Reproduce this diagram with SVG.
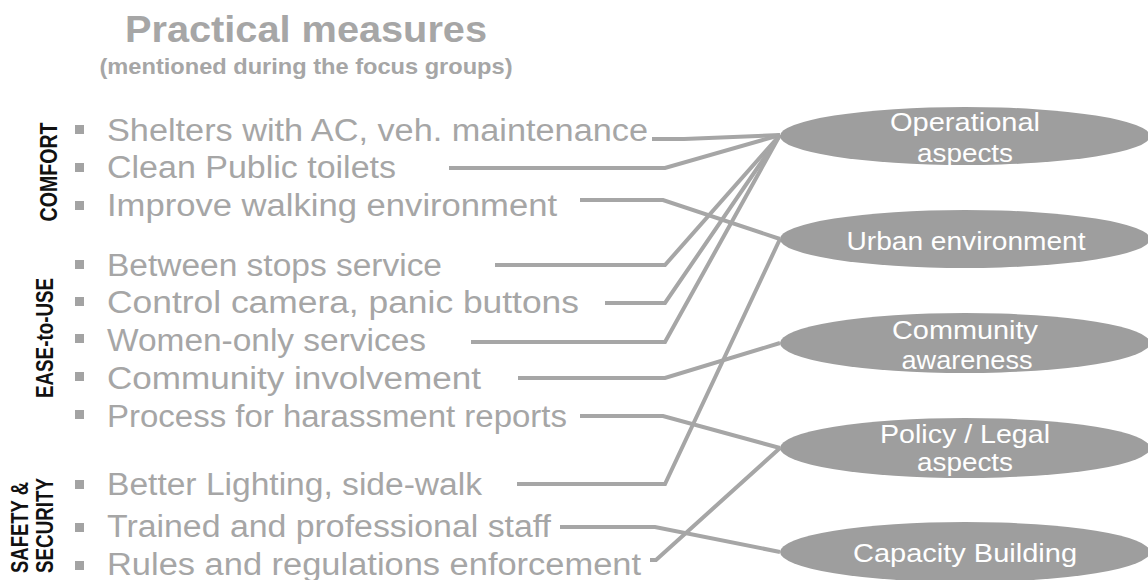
<svg xmlns="http://www.w3.org/2000/svg" width="1148" height="580" viewBox="0 0 1148 580">
<style>
  .title { font-family: "Liberation Sans", Arial, sans-serif; font-weight: bold; fill: #a6a6a6; }
  .item { font-family: "Liberation Sans", Arial, sans-serif; font-size: 31px; fill: #a6a6a6; }
  .cat { font-family: "Liberation Sans", Arial, sans-serif; font-size: 23px; font-weight: bold; fill: #111111; }
  .bullet { fill: #a3a3a3; }
  .node { fill: #9e9e9e; }
  .nlabel { font-family: "Liberation Sans", Arial, sans-serif; font-size: 26px; fill: #ffffff; text-anchor: middle; }
  .conn { fill: none; stroke: #a6a6a6; stroke-width: 4; stroke-linejoin: miter; }
</style>

<g id="title">
  <text class="title" x="306" y="42" font-size="37" text-anchor="middle" textLength="362" lengthAdjust="spacingAndGlyphs">Practical measures</text>
  <text class="title" x="306" y="74" font-size="22" text-anchor="middle" textLength="413" lengthAdjust="spacingAndGlyphs">(mentioned during the focus groups)</text>
</g>

<g id="categories">
  <text class="cat" transform="translate(57,172) rotate(-90)" text-anchor="middle" textLength="99" lengthAdjust="spacingAndGlyphs">COMFORT</text>
  <text class="cat" transform="translate(53,338) rotate(-90)" text-anchor="middle" textLength="120" lengthAdjust="spacingAndGlyphs">EASE-to-USE</text>
  <text class="cat" transform="translate(28,573) rotate(-90)" textLength="91" lengthAdjust="spacingAndGlyphs">SAFETY &amp;</text>
  <text class="cat" transform="translate(53,573) rotate(-90)" textLength="95" lengthAdjust="spacingAndGlyphs">SECURITY</text>
</g>

<g id="items">
  <g id="item-shelters"><rect class="bullet" x="75" y="125" width="9" height="9"/><text class="item" x="107" y="141" textLength="541" lengthAdjust="spacingAndGlyphs">Shelters with AC, veh. maintenance</text></g>
  <g id="item-toilets"><rect class="bullet" x="75" y="163" width="9" height="9"/><text class="item" x="107" y="178" textLength="289" lengthAdjust="spacingAndGlyphs">Clean Public toilets</text></g>
  <g id="item-walking"><rect class="bullet" x="75" y="201" width="9" height="9"/><text class="item" x="107" y="216" textLength="450" lengthAdjust="spacingAndGlyphs">Improve walking environment</text></g>
  <g id="item-between"><rect class="bullet" x="75" y="260" width="9" height="9"/><text class="item" x="107" y="276" textLength="335" lengthAdjust="spacingAndGlyphs">Between stops service</text></g>
  <g id="item-camera"><rect class="bullet" x="75" y="297" width="9" height="9"/><text class="item" x="107" y="313" textLength="472" lengthAdjust="spacingAndGlyphs">Control camera, panic buttons</text></g>
  <g id="item-women"><rect class="bullet" x="75" y="334" width="9" height="9"/><text class="item" x="107" y="351" textLength="319" lengthAdjust="spacingAndGlyphs">Women-only services</text></g>
  <g id="item-community"><rect class="bullet" x="75" y="372" width="9" height="9"/><text class="item" x="107" y="389" textLength="374" lengthAdjust="spacingAndGlyphs">Community involvement</text></g>
  <g id="item-process"><rect class="bullet" x="75" y="410" width="9" height="9"/><text class="item" x="107" y="427" textLength="460" lengthAdjust="spacingAndGlyphs">Process for harassment reports</text></g>
  <g id="item-lighting"><rect class="bullet" x="75" y="480" width="9" height="9"/><text class="item" x="107" y="495" textLength="375" lengthAdjust="spacingAndGlyphs">Better Lighting, side-walk</text></g>
  <g id="item-staff"><rect class="bullet" x="75" y="523" width="9" height="9"/><text class="item" x="107" y="537" textLength="444" lengthAdjust="spacingAndGlyphs">Trained and professional staff</text></g>
  <g id="item-rules"><rect class="bullet" x="75" y="561" width="9" height="9"/><text class="item" x="107" y="575" textLength="534" lengthAdjust="spacingAndGlyphs">Rules and regulations enforcement</text></g>
</g>

<g id="connectors">
  <path class="conn" d="M652,139 L684,139 L780,135"/>
  <path class="conn" d="M449,168 L665,168 L780,135"/>
  <path class="conn" d="M495,265 L665,265 L780,135"/>
  <path class="conn" d="M605,303 L665,303 L780,135"/>
  <path class="conn" d="M471,342 L665,342 L780,135"/>
  <path class="conn" d="M580,200 L663,200 L780,239"/>
  <path class="conn" d="M517,484 L665,484 L780,239"/>
  <path class="conn" d="M518,378 L665,378 L780,343"/>
  <path class="conn" d="M580,416 L663,416 L780,448"/>
  <path class="conn" d="M650,560 L656,560 L780,448"/>
  <path class="conn" d="M560,527 L655,527 L780,552"/>
</g>

<g id="node-operational">
  <ellipse class="node" cx="965" cy="136" rx="185" ry="29"/>
  <text class="nlabel" x="965" y="131" textLength="150" lengthAdjust="spacingAndGlyphs">Operational</text>
  <text class="nlabel" x="965" y="162" textLength="96" lengthAdjust="spacingAndGlyphs">aspects</text>
</g>
<g id="node-urban">
  <ellipse class="node" cx="965" cy="239" rx="185" ry="29"/>
  <text class="nlabel" x="966" y="250" textLength="239" lengthAdjust="spacingAndGlyphs">Urban environment</text>
</g>
<g id="node-community">
  <ellipse class="node" cx="965" cy="343" rx="185" ry="30"/>
  <text class="nlabel" x="965" y="339" textLength="146" lengthAdjust="spacingAndGlyphs">Community</text>
  <text class="nlabel" x="967" y="369" textLength="131" lengthAdjust="spacingAndGlyphs">awareness</text>
</g>
<g id="node-policy">
  <ellipse class="node" cx="965" cy="448" rx="185" ry="30"/>
  <text class="nlabel" x="965" y="443" textLength="170" lengthAdjust="spacingAndGlyphs">Policy / Legal</text>
  <text class="nlabel" x="965" y="471" textLength="96" lengthAdjust="spacingAndGlyphs">aspects</text>
</g>
<g id="node-capacity">
  <ellipse class="node" cx="965" cy="552" rx="185" ry="30"/>
  <text class="nlabel" x="965" y="562" textLength="224" lengthAdjust="spacingAndGlyphs">Capacity Building</text>
</g>
</svg>
